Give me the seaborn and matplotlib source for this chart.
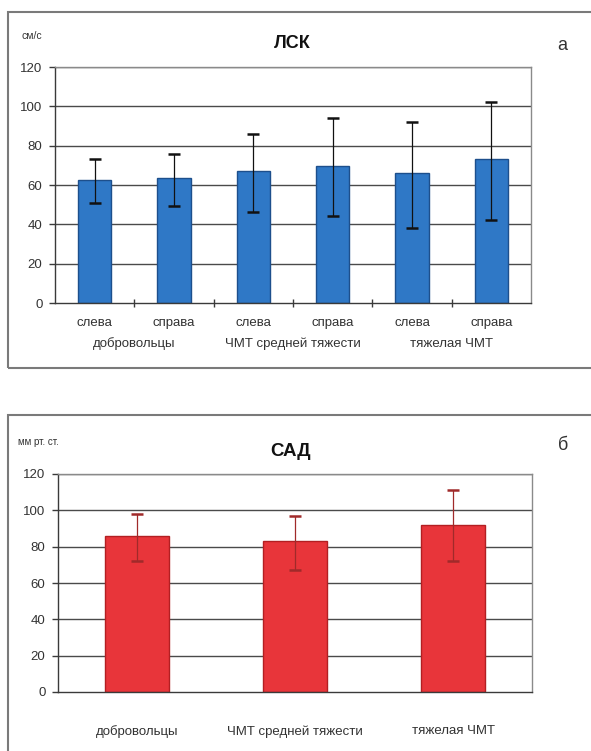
import matplotlib
matplotlib.use("Agg")
import matplotlib.pyplot as plt
import matplotlib.transforms as mtransforms
from matplotlib.patches import Rectangle
import seaborn as sns
import pandas as pd
import numpy as np

# --- data ---
lsk_groups = ['добровольцы', 'ЧМТ средней тяжести', 'тяжелая ЧМТ']
lsk_sides = ['слева', 'справа', 'слева', 'справа', 'слева', 'справа']
lsk_mean = [62.5, 63.5, 67, 69.5, 66, 73]
lsk_upper = [73, 76, 86, 94, 92, 102]
lsk_lower = [51, 49.5, 46.5, 44, 38, 42]

sad_groups = ['добровольцы', 'ЧМТ средней тяжести', 'тяжелая ЧМТ']
sad_mean = [86, 83, 92]
sad_upper = [98, 97, 111]
sad_lower = [72, 67, 72]

sns.set_theme(style="white")
plt.rcParams['font.family'] = ['Liberation Sans', 'DejaVu Sans']

W, H = 591, 751
fig = plt.figure(figsize=(W / 100, H / 100), dpi=100)


def ax_rect(left, top, right, bottom):
    return [left / W, 1 - bottom / H, (right - left) / W, (bottom - top) / H]


def style_axes(ax):
    ax.set_ylim(0, 120)
    ax.set_yticks(range(0, 121, 20))
    for y in range(20, 121, 20):
        ax.axhline(y, color='#4a4a4a', lw=1.0, zorder=0)
    for s in ['top', 'right']:
        ax.spines[s].set_color('#8a8a8a')
        ax.spines[s].set_linewidth(1.0)
    for s in ['left', 'bottom']:
        ax.spines[s].set_color('#3a3a3a')
        ax.spines[s].set_linewidth(1.0)
    ax.tick_params(axis='y', direction='out', length=4, width=1, color='#3a3a3a',
                   labelsize=9.5, labelcolor='#333333', pad=5, left=True)
    ax.set_xlabel('')
    ax.set_ylabel('')


# outer frames
fig.patches.append(Rectangle((8 / W, 1 - 368 / H), 600 / W, 356 / H, transform=fig.transFigure,
                             fill=False, edgecolor='#7a7a7a', lw=1.5))
fig.patches.append(Rectangle((8 / W, 1 - 760 / H), 600 / W, 345 / H, transform=fig.transFigure,
                             fill=False, edgecolor='#7a7a7a', lw=1.5))

# --- top panel: ЛСК ---
ax1 = fig.add_axes(ax_rect(55, 67, 531, 303))
keys1 = [f'{i}_{s}' for i, s in enumerate(lsk_sides)]
df1 = pd.DataFrame({'key': keys1, 'value': lsk_mean})
sns.barplot(data=df1, x='key', y='value', ax=ax1, color='#2f78c6', width=0.42,
            edgecolor='#1d4f8c', linewidth=1.0, saturation=1, zorder=2)
x1 = np.arange(len(lsk_mean))
err1 = [np.array(lsk_mean) - np.array(lsk_lower), np.array(lsk_upper) - np.array(lsk_mean)]
ax1.errorbar(x1, lsk_mean, yerr=err1, fmt='none', ecolor='#111111', elinewidth=0.9,
             capsize=4, capthick=1.8, zorder=3)
style_axes(ax1)
ax1.set_xlim(-0.5, len(lsk_mean) - 0.5)
ax1.set_xticks(x1)
ax1.set_xticklabels(lsk_sides, fontsize=9.5, color='#333333')
ax1.tick_params(axis='x', which='major', length=0, pad=10)
ax1.set_xticks(x1[:-1] + 0.5, minor=True)
ax1.tick_params(axis='x', which='minor', bottom=True, direction='inout', length=6,
                width=1, color='#3a3a3a')
trans1 = mtransforms.blended_transform_factory(ax1.transData, fig.transFigure)
for i, g in enumerate(lsk_groups):
    ax1.text(2 * i + 0.5, 1 - 344 / H, g, transform=trans1, ha='center', va='center',
             fontsize=9.5, color='#333333')
fig.text(292 / W, 1 - 43 / H, 'ЛСК', ha='center', va='center', fontsize=13,
         fontweight='bold', color='#111111')
fig.text(22 / W, 1 - 36 / H, 'см/с', ha='left', va='center', fontsize=7.5, color='#333333')
fig.text(562 / W, 1 - 46 / H, 'а', ha='center', va='center', fontsize=13, color='#333333')

# --- bottom panel: САД ---
ax2 = fig.add_axes(ax_rect(58, 474, 532, 692))
df2 = pd.DataFrame({'group': sad_groups, 'value': sad_mean})
sns.barplot(data=df2, x='group', y='value', ax=ax2, color='#e8353a', width=0.41,
            edgecolor='#b31f22', linewidth=1.0, saturation=1, zorder=2)
x2 = np.arange(len(sad_mean))
err2 = [np.array(sad_mean) - np.array(sad_lower), np.array(sad_upper) - np.array(sad_mean)]
ax2.errorbar(x2, sad_mean, yerr=err2, fmt='none', ecolor='#a02a2a', elinewidth=0.9,
             capsize=4, capthick=1.8, zorder=3)
style_axes(ax2)
ax2.set_xlim(-0.5, len(sad_mean) - 0.5)
ax2.set_xticks(x2)
ax2.set_xticklabels(sad_groups, fontsize=9.5, color='#333333')
ax2.tick_params(axis='x', length=0, pad=24)
fig.text(291 / W, 1 - 451 / H, 'САД', ha='center', va='center', fontsize=13.5,
         fontweight='bold', color='#111111')
fig.text(18 / W, 1 - 442 / H, 'мм рт. ст.', ha='left', va='center', fontsize=7,
         color='#333333')
fig.text(563 / W, 1 - 446 / H, 'б', ha='center', va='center', fontsize=13, color='#333333')

fig.savefig('out.png', dpi=100)
